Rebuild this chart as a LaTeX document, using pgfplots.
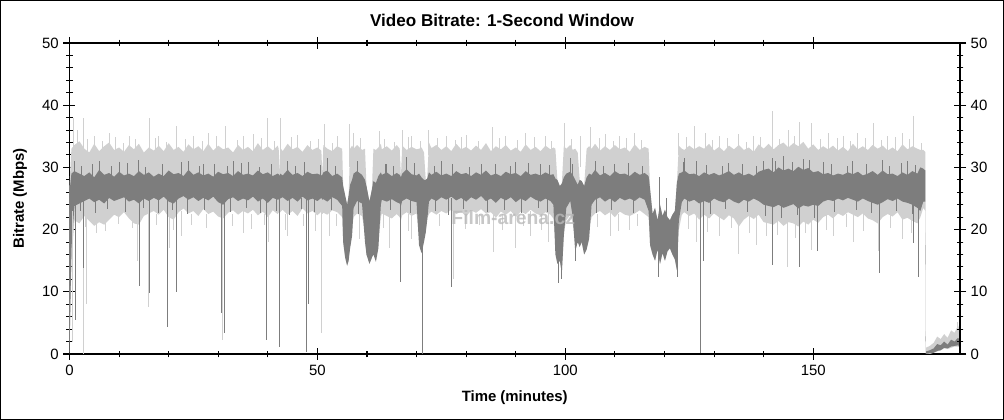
\documentclass[border=0pt]{standalone}
\usepackage{pgfplots}
\pgfplotsset{compat=1.18}
\usepgfplotslibrary{fillbetween}
\usepackage{pgfplotstable}
\usepackage{fontspec}
\setmainfont{Liberation Sans}
\definecolor{lightband}{RGB}{208,208,208}
\definecolor{darkband}{RGB}{125,125,125}

\pgfplotstableread{
t lhi llo dhi dlo
0 27.0 0.0 26.0 0.0
0.4 33.0 15.0 29.0 17.0
1 33.6 21.5 29.4 23.8
2 34.2 21.0 29.0 24.2
3 33.0 22.2 28.6 24.6
4 32.4 21.4 29.2 25.0
5 33.8 20.6 28.4 24.4
6 32.6 21.2 29.6 24.8
7 33.4 20.8 28.8 24.2
8 34.0 21.6 29.1 25.1
9 32.8 22.4 28.5 24.6
10 33.2 22.0 29.3 24.9
11 32.5 22.8 28.7 25.2
12 33.6 21.8 29.0 24.5
13 32.9 21.0 28.6 24.8
14 33.8 20.8 29.4 24.2
15 32.4 22.2 28.8 25.0
16 33.2 22.6 29.2 24.6
17 32.7 23.0 28.5 25.1
18 33.5 22.4 29.0 24.7
19 32.6 23.2 28.6 25.3
20 33.9 22.0 29.5 24.5
21 32.8 21.6 28.9 24.2
22 33.3 22.8 29.1 25.0
23 32.5 23.4 28.6 25.4
24 33.7 22.6 29.6 24.8
25 32.9 23.0 28.8 25.2
26 33.4 22.2 29.2 24.6
27 32.6 23.3 28.7 25.1
28 33.8 22.5 29.0 24.7
29 32.7 22.9 28.5 25.3
30 33.5 22.1 29.3 24.4
31 32.9 21.8 28.9 24.0
32 33.2 22.7 29.1 24.9
33 32.4 23.1 28.6 25.2
34 33.6 22.4 29.4 24.6
35 32.8 23.0 28.8 25.0
36 33.3 22.6 29.0 24.7
37 32.6 23.2 28.7 25.3
38 33.9 22.3 29.5 24.5
39 32.8 22.9 28.9 25.0
40 33.4 22.0 29.2 24.3
41 32.7 23.1 28.6 25.1
42 33.5 22.5 29.0 24.8
42.2 33.0 22.8 28.9 24.9
42.35 28.6 22.6 28.6 24.7
42.5 33.2 22.8 29.0 25.0
43 32.6 23.2 28.7 25.2
44 33.8 22.4 29.6 24.6
45 32.9 23.0 28.8 25.1
46 33.3 22.2 29.1 24.5
47 32.5 23.4 28.6 25.3
48 33.6 22.6 29.3 24.7
49 32.8 23.0 28.9 25.0
50 33.2 22.3 29.0 24.6
50.8 32.7 22.9 28.7 25.1
51.0 28.8 22.5 28.8 24.8
51.2 33.6 22.7 29.2 24.9
52 33.0 22.4 29.5 24.5
53 32.6 23.1 28.6 25.2
54 33.4 22.8 29.0 24.8
55 33.0 22.0 28.4 23.8
55.2 27.0 18.0 27.0 18.0
55.6 25.5 15.5 25.5 15.5
56.0 24.0 14.2 24.0 14.2
56.3 25.5 15.0 25.5 15.0
56.6 33.0 18.5 27.2 17.0
57.0 33.5 20.0 28.0 19.0
57.3 33.0 22.0 29.0 23.5
58 33.6 22.6 29.4 24.6
59 32.8 22.2 28.8 24.2
59.6 33.0 19.5 28.0 18.0
59.9 27.0 16.0 27.0 16.0
60.5 24.5 14.5 24.5 14.5
61.0 26.5 15.5 26.5 15.5
61.3 33.0 17.0 27.8 16.0
61.8 32.8 15.8 27.5 14.8
62.3 33.2 18.0 28.6 17.0
62.8 33.8 22.0 29.2 24.0
63 32.9 22.6 28.8 24.8
64 33.4 22.2 29.2 24.5
65 32.7 21.8 28.6 24.9
66 33.6 22.5 29.1 24.4
66.6 33.0 22.0 28.8 24.2
66.85 28.4 21.5 28.4 23.8
67.1 33.5 22.3 29.0 24.6
68 32.8 22.8 29.7 25.0
69 33.3 22.2 28.9 24.6
70 32.9 22.6 28.7 24.4
70.5 33.0 19.0 29.0 17.5
71.0 33.2 18.0 28.4 16.2
71.5 32.4 20.0 28.0 18.0
71.85 28.0 20.5 28.0 19.5
72.15 28.2 21.8 28.2 21.5
72.5 34.0 22.5 29.2 24.5
73 33.1 22.9 28.8 25.0
74 33.6 22.4 29.3 24.6
75 32.8 23.0 28.7 25.2
76 33.4 22.6 29.0 24.8
77 32.6 23.2 28.6 25.3
78 33.8 22.5 29.4 24.7
79 32.9 22.9 28.9 25.1
80 33.3 22.1 29.1 24.5
81 32.7 23.1 28.6 25.2
82 33.5 22.7 29.2 24.8
83 32.8 23.3 28.8 25.4
84 33.9 22.6 29.5 24.6
85 32.6 22.8 28.7 25.0
86 33.4 21.9 29.0 24.3
87 32.9 22.9 28.6 25.1
88 33.6 22.4 29.3 24.7
89 32.7 23.0 28.9 25.2
90 33.2 22.0 29.1 24.4
91 32.5 22.9 28.6 25.0
92 33.7 22.5 29.4 24.6
93 32.8 23.2 28.8 25.3
94 33.3 22.6 29.0 24.8
95 32.6 22.3 28.7 24.5
96 33.5 22.8 29.2 25.0
97 32.9 22.4 28.8 24.6
97.6 33.2 21.8 28.9 24.0
98.0 33.0 18.0 28.2 16.0
98.4 28.0 14.5 28.0 14.5
98.9 27.0 15.0 27.0 15.0
99.3 27.4 13.0 27.4 13.0
99.7 33.4 19.5 28.4 19.0
100.2 33.0 21.5 29.0 23.5
101 33.6 22.4 29.3 24.6
101.5 32.8 21.0 28.8 22.0
102.0 33.0 18.0 28.0 16.5
102.5 32.4 19.0 27.2 18.0
102.9 28.0 17.2 28.0 17.2
103.3 27.8 18.0 27.8 18.0
103.8 27.0 16.0 27.0 16.0
104.3 33.0 17.5 28.4 16.8
104.8 33.4 20.0 29.0 18.5
105.3 33.0 22.0 28.8 24.0
106 33.8 22.6 29.6 24.8
107 32.7 23.0 28.7 25.2
108 33.4 22.3 29.1 24.5
109 32.8 22.8 28.6 25.0
110 33.6 22.0 29.4 24.4
111 32.9 22.9 28.9 25.1
112 33.2 22.4 29.0 24.7
113 32.5 22.2 28.6 25.0
114 33.7 22.6 29.3 24.6
115 32.8 23.1 28.8 25.2
116 33.3 22.5 29.1 24.8
116.8 33.0 22.0 28.6 23.0
117.1 26.5 17.5 26.5 17.5
117.6 22.5 16.0 22.5 16.0
118.1 23.5 15.0 23.5 15.0
118.6 21.5 16.8 21.5 16.8
119.1 24.0 14.5 24.0 14.5
119.6 22.2 16.2 22.2 16.2
120.1 23.2 15.0 23.2 15.0
120.6 22.0 16.5 22.0 16.5
121.1 21.5 17.0 21.5 17.0
121.6 22.4 16.0 22.4 16.0
122.1 23.0 15.2 23.0 15.2
122.5 27.5 13.5 27.5 13.5
122.9 33.5 20.0 29.0 21.5
123.5 33.0 22.4 29.2 24.4
124 32.8 22.8 29.5 25.0
125 33.5 22.2 28.9 24.5
126 32.9 22.6 29.0 24.8
127 33.4 21.6 28.6 24.2
128 33.0 22.4 29.2 24.6
129 33.8 21.8 28.8 24.3
130 32.7 22.6 29.1 25.0
131 33.3 22.0 28.7 24.6
132 32.6 21.5 29.0 24.4
133 33.5 22.3 29.4 25.0
134 32.9 21.8 28.8 24.5
135 33.6 20.5 29.2 24.2
136 32.8 21.6 28.7 24.8
137 33.2 22.2 29.0 24.5
138 32.5 21.7 28.6 25.0
139 33.7 22.4 29.3 24.6
140 33.0 21.2 29.6 24.0
141 33.8 21.0 29.8 23.8
142 32.9 20.8 29.2 23.6
143 33.6 21.4 30.0 24.0
144 34.0 20.6 29.5 23.5
145 33.2 21.2 29.8 23.8
146 33.9 21.0 29.4 24.1
147 33.4 20.5 30.1 23.4
148 34.1 21.3 29.6 23.9
149 33.0 20.8 29.9 23.7
150 33.7 21.6 29.2 24.0
151 32.8 21.1 29.4 23.8
152 33.4 22.0 28.9 24.5
153 32.9 22.4 29.1 24.8
154 33.5 21.8 28.7 24.6
155 32.7 22.6 29.0 25.0
156 33.3 22.2 28.8 24.7
157 32.6 22.8 29.2 25.1
158 33.8 22.4 28.9 24.8
159 32.9 22.0 29.3 24.5
160 33.4 22.6 28.7 25.0
161 32.8 21.8 29.0 24.6
162 33.6 21.5 29.4 24.3
163 33.0 21.0 28.8 24.0
164 33.5 22.0 29.5 24.4
165 32.7 22.5 28.9 24.9
166 33.2 22.1 29.0 24.6
167 32.6 22.8 28.6 25.0
168 33.7 21.6 29.2 24.5
169 32.9 21.9 28.8 24.3
170 33.4 21.4 29.4 24.0
171 33.0 21.0 29.0 23.5
171.6 32.8 22.0 30.0 23.0
172.2 32.8 23.5 29.8 24.5
172.6 32.5 23.0 29.5 24.5
172.7 1.0 0.0 0.4 0.0
173.5 1.3 0.0 0.6 0.1
174.3 1.8 0.2 0.9 0.2
175.0 2.8 0.4 1.6 0.5
175.7 2.4 0.6 1.4 0.6
176.4 3.2 0.9 2.0 1.0
177.1 2.6 0.8 1.5 0.9
177.8 3.8 1.0 2.3 1.2
178.5 3.4 1.2 2.0 1.3
179.2 4.6 1.2 2.6 1.4
179.6 3.6 1.0 2.2 1.2
}\bandtable

\begin{document}
\begin{tikzpicture}
\pgfplotsset{
  common/.style={
    at={(0,0)}, anchor=south west,
    scale only axis, width=667.9pt, height=233.25pt,
    xmin=0, xmax=179.6, ymin=0, ymax=50,
    ytick={0,10,20,30,40,50}, minor y tick num=4,
    tick align=center, major tick length=9pt, minor tick length=5pt,
    every tick/.style={black, line width=0.8pt},
    axis line style={line width=1.1pt},
    /pgf/number format/assume math mode=true,
    tick label style={font=\fontsize{11.2}{13}\selectfont},
  }
}
\begin{axis}[
  common,
  xtick={0,50,100,150}, minor x tick num=4,
  title={Video Bitrate: 1-Second Window},
  title style={at={(0.4857,1.048)}, anchor=center, font=\bfseries\fontsize{12.8}{15}\selectfont},
  xlabel={Time (minutes)},
  ylabel={Bitrate (Mbps)},
  every axis x label/.style={at={(axis description cs:0.5,-0.1415)}, anchor=center, font=\bfseries\fontsize{11.2}{13}\selectfont},
  every axis y label/.style={at={(axis description cs:-0.0554,0.5)}, anchor=center, rotate=90, font=\bfseries\fontsize{11.2}{13}\selectfont},
  unbounded coords=jump,
]
\addplot[name path=LH, draw=none] table[x=t,y=lhi]{\bandtable};
\addplot[name path=LL, draw=none] table[x=t,y=llo]{\bandtable};
\addplot[lightband] fill between[of=LH and LL];

% light spikes (up and down)
\addplot[lightband, line width=0.6pt] coordinates {
(0.8,32) (0.8,38) (0.8,nan)
(1.5,32) (1.5,36) (1.5,nan)
(2.9,32) (2.9,38) (2.9,nan)
(5,32) (5,35) (5,nan)
(8,32) (8,35.5) (8,nan)
(12,32) (12,35) (12,nan)
(16.1,32) (16.1,38) (16.1,nan)
(18,32) (18,35) (18,nan)
(21.6,32) (21.6,36.7) (21.6,nan)
(25,32) (25,35) (25,nan)
(28,32) (28,35.5) (28,nan)
(31.5,32) (31.5,36.6) (31.5,nan)
(35,32) (35,35) (35,nan)
(37,32) (37,35.3) (37,nan)
(40,32) (40,38) (40,nan)
(42.6,32) (42.6,37.9) (42.6,nan)
(46,32) (46,35.2) (46,nan)
(51.4,32) (51.4,37) (51.4,nan)
(54,32) (54,35) (54,nan)
(56.5,30) (56.5,37) (56.5,nan)
(57.2,32) (57.2,35.5) (57.2,nan)
(62.6,32) (62.6,35.8) (62.6,nan)
(67.2,32) (67.2,36) (67.2,nan)
(69,32) (69,35) (69,nan)
(72.4,32) (72.4,36) (72.4,nan)
(76,32) (76,35) (76,nan)
(80,32) (80,35.2) (80,nan)
(85.2,32) (85.2,36.5) (85.2,nan)
(88,32) (88,35) (88,nan)
(92,32) (92,35.5) (92,nan)
(96,32) (96,35) (96,nan)
(99.8,32) (99.8,37.1) (99.8,nan)
(103,30) (103,35) (103,nan)
(105,32) (105,36.5) (105,nan)
(108,32) (108,35.3) (108,nan)
(111,32) (111,35) (111,nan)
(114,32) (114,35.5) (114,nan)
(122.9,32) (122.9,35.5) (122.9,nan)
(126,32) (126,36.7) (126,nan)
(128.2,32) (128.2,35.5) (128.2,nan)
(131,32) (131,35) (131,nan)
(135,32) (135,35.4) (135,nan)
(138,32) (138,35) (138,nan)
(141.7,32) (141.7,39) (141.7,nan)
(145,32) (145,36) (145,nan)
(147.2,32) (147.2,37.3) (147.2,nan)
(149.7,32) (149.7,37.2) (149.7,nan)
(153,32) (153,35.5) (153,nan)
(156,32) (156,35) (156,nan)
(159,32) (159,35.5) (159,nan)
(162.1,32) (162.1,37.2) (162.1,nan)
(165,32) (165,35) (165,nan)
(168,32) (168,35.5) (168,nan)
(170.2,32) (170.2,38.2) (170.2,nan)
(0.6,23) (0.6,2) (0.6,nan)
(2.9,23) (2.9,0) (2.9,nan)
(3.5,23) (3.5,8) (3.5,nan)
(5.5,23) (5.5,19.5) (5.5,nan)
(13.8,23) (13.8,15) (13.8,nan)
(15.9,23) (15.9,7.5) (15.9,nan)
(20.2,23) (20.2,17) (20.2,nan)
(22.5,23) (22.5,19) (22.5,nan)
(30.9,23) (30.9,2.3) (30.9,nan)
(35,23) (35,19.5) (35,nan)
(40.2,23) (40.2,18) (40.2,nan)
(44,23) (44,19) (44,nan)
(50.9,23) (50.9,3.4) (50.9,nan)
(52.5,23) (52.5,19) (52.5,nan)
(58.5,23) (58.5,18.5) (58.5,nan)
(64.5,23) (64.5,17) (64.5,nan)
(69,23) (69,18.5) (69,nan)
(77.5,23) (77.5,12) (77.5,nan)
(85.5,23) (85.5,16.4) (85.5,nan)
(89.9,23) (89.9,17) (89.9,nan)
(93,23) (93,19) (93,nan)
(96.5,23) (96.5,18) (96.5,nan)
(109,23) (109,19) (109,nan)
(113,23) (113,20) (113,nan)
(126.5,23) (126.5,18) (126.5,nan)
(131,23) (131,19) (131,nan)
(135,23) (135,16) (135,nan)
(138.5,23) (138.5,17.5) (138.5,nan)
(144.7,23) (144.7,14) (144.7,nan)
(149.7,23) (149.7,16.7) (149.7,nan)
(154,23) (154,19) (154,nan)
(158,23) (158,18) (158,nan)
(163.1,23) (163.1,16.5) (163.1,nan)
(168,23) (168,18.5) (168,nan)
(179.0,3) (179.0,5.2) (179.0,nan)
};

% short light spikes at the band edges (texture)
\addplot[lightband, line width=0.5pt] coordinates {
(3.7,32.5) (3.7,34.6) (3.7,nan) (6.6,32.5) (6.6,34.2) (6.6,nan)
(9.3,32.5) (9.3,34.9) (9.3,nan) (10.8,32.5) (10.8,33.9) (10.8,nan)
(13.2,32.5) (13.2,34.5) (13.2,nan) (17.3,32.5) (17.3,34.8) (17.3,nan)
(19.5,32.5) (19.5,34.1) (19.5,nan) (23.4,32.5) (23.4,34.6) (23.4,nan)
(26.7,32.5) (26.7,34.3) (26.7,nan) (29.6,32.5) (29.6,35.0) (29.6,nan)
(33.8,32.5) (33.8,34.4) (33.8,nan) (38.7,32.5) (38.7,34.7) (38.7,nan)
(41.3,32.5) (41.3,34.2) (41.3,nan) (44.8,32.5) (44.8,34.9) (44.8,nan)
(48.6,32.5) (48.6,34.3) (48.6,nan) (50.2,32.5) (50.2,34.6) (50.2,nan)
(53.1,32.5) (53.1,34.0) (53.1,nan) (58.7,32.5) (58.7,34.8) (58.7,nan)
(63.5,32.5) (63.5,34.5) (63.5,nan) (65.6,32.5) (65.6,34.1) (65.6,nan)
(68.3,32.5) (68.3,34.9) (68.3,nan) (70.7,32.5) (70.7,34.3) (70.7,nan)
(74.2,32.5) (74.2,34.7) (74.2,nan) (77.8,32.5) (77.8,34.4) (77.8,nan)
(79.1,32.5) (79.1,34.9) (79.1,nan) (82.4,32.5) (82.4,34.2) (82.4,nan)
(86.6,32.5) (86.6,34.8) (86.6,nan) (90.4,32.5) (90.4,34.4) (90.4,nan)
(93.7,32.5) (93.7,34.9) (93.7,nan) (97.1,32.5) (97.1,34.3) (97.1,nan)
(101.2,32.5) (101.2,34.5) (101.2,nan) (106.8,32.5) (106.8,34.7) (106.8,nan)
(109.6,32.5) (109.6,34.2) (109.6,nan) (112.4,32.5) (112.4,34.8) (112.4,nan)
(115.3,32.5) (115.3,34.4) (115.3,nan) (124.4,32.5) (124.4,34.9) (124.4,nan)
(129.6,32.5) (129.6,34.4) (129.6,nan) (132.7,32.5) (132.7,34.8) (132.7,nan)
(136.5,32.5) (136.5,34.1) (136.5,nan) (139.4,32.5) (139.4,34.9) (139.4,nan)
(143.2,32.5) (143.2,34.6) (143.2,nan) (146.1,32.5) (146.1,35.0) (146.1,nan)
(151.5,32.5) (151.5,34.5) (151.5,nan) (154.8,32.5) (154.8,34.8) (154.8,nan)
(157.4,32.5) (157.4,34.3) (157.4,nan) (160.6,32.5) (160.6,34.7) (160.6,nan)
(163.8,32.5) (163.8,34.4) (163.8,nan) (166.5,32.5) (166.5,34.9) (166.5,nan)
(169.4,32.5) (169.4,34.5) (169.4,nan) (171.8,32.5) (171.8,34.0) (171.8,nan)
(3.3,22.5) (3.3,20.4) (3.3,nan) (7.2,22.5) (7.2,19.8) (7.2,nan)
(9.8,22.5) (9.8,20.9) (9.8,nan) (12.6,22.5) (12.6,20.2) (12.6,nan)
(17.6,22.5) (17.6,20.7) (17.6,nan) (21.0,22.5) (21.0,19.9) (21.0,nan)
(24.5,22.5) (24.5,20.8) (24.5,nan) (27.6,22.5) (27.6,20.3) (27.6,nan)
(32.8,22.5) (32.8,20.6) (32.8,nan) (36.6,22.5) (36.6,20.1) (36.6,nan)
(39.3,22.5) (39.3,20.8) (39.3,nan) (43.5,22.5) (43.5,20.0) (43.5,nan)
(47.2,22.5) (47.2,20.6) (47.2,nan) (49.6,22.5) (49.6,19.8) (49.6,nan)
(53.8,22.5) (53.8,20.5) (53.8,nan) (63.4,22.5) (63.4,20.2) (63.4,nan)
(68.4,22.5) (68.4,19.7) (68.4,nan) (74.6,22.5) (74.6,20.6) (74.6,nan)
(79.8,22.5) (79.8,20.1) (79.8,nan) (82.7,22.5) (82.7,20.8) (82.7,nan)
(87.3,22.5) (87.3,19.9) (87.3,nan) (91.5,22.5) (91.5,20.5) (91.5,nan)
(95.2,22.5) (95.2,20.0) (95.2,nan) (106.5,22.5) (106.5,20.4) (106.5,nan)
(110.7,22.5) (110.7,19.8) (110.7,nan) (114.6,22.5) (114.6,20.6) (114.6,nan)
(124.8,22.5) (124.8,20.1) (124.8,nan) (128.7,22.5) (128.7,19.6) (128.7,nan)
(133.4,22.5) (133.4,20.3) (133.4,nan) (137.2,22.5) (137.2,19.4) (137.2,nan)
(140.6,22.5) (140.6,18.9) (140.6,nan) (142.8,22.5) (142.8,19.2) (142.8,nan)
(146.3,22.5) (146.3,18.7) (146.3,nan) (148.5,22.5) (148.5,19.5) (148.5,nan)
(152.6,22.5) (152.6,19.9) (152.6,nan) (156.6,22.5) (156.6,20.4) (156.6,nan)
(160.2,22.5) (160.2,19.7) (160.2,nan) (165.6,22.5) (165.6,20.2) (165.6,nan)
(169.7,22.5) (169.7,19.5) (169.7,nan)
};

\addplot[name path=DH, draw=none] table[x=t,y=dhi]{\bandtable};
\addplot[name path=DL, draw=none] table[x=t,y=dlo]{\bandtable};
\addplot[darkband] fill between[of=DH and DL];

% dark spikes (down and up)
\addplot[darkband, line width=0.7pt] coordinates {
(1.2,25) (1.2,5.5) (1.2,nan)
(2.9,25) (2.9,13.8) (2.9,nan)
(14.2,25) (14.2,11) (14.2,nan)
(16.1,25) (16.1,9.8) (16.1,nan)
(19.8,25) (19.8,4.4) (19.8,nan)
(21.5,25) (21.5,10) (21.5,nan)
(30.6,25) (30.6,6.6) (30.6,nan)
(31.3,25) (31.3,3.4) (31.3,nan)
(39.8,25) (39.8,2.2) (39.8,nan)
(42.3,25) (42.3,1.1) (42.3,nan)
(47.8,25) (47.8,0.3) (47.8,nan)
(48.2,25) (48.2,8) (48.2,nan)
(66.7,25) (66.7,11.6) (66.7,nan)
(71.1,25) (71.1,0) (71.1,nan)
(77,25) (77,10.8) (77,nan)
(98.6,25) (98.6,11.4) (98.6,nan)
(99.3,25) (99.3,12) (99.3,nan)
(102,25) (102,15) (102,nan)
(104,25) (104,16.7) (104,nan)
(118.8,20) (118.8,12.4) (118.8,nan)
(119.0,18) (119.0,28.5) (119.0,nan)
(120.5,18) (120.5,25) (120.5,nan)
(122.7,20) (122.7,12.4) (122.7,nan)
(127.2,25) (127.2,0.1) (127.2,nan)
(127.9,25) (127.9,15) (127.9,nan)
(141.7,25) (141.7,14.3) (141.7,nan)
(147.2,25) (147.2,14) (147.2,nan)
(150.9,25) (150.9,16.5) (150.9,nan)
(163.3,25) (163.3,13) (163.3,nan)
(170.2,25) (170.2,17.8) (170.2,nan)
(171.2,25) (171.2,12.4) (171.2,nan)
(1,28) (1,31) (1,nan)
(6,28) (6,31) (6,nan)
(10,28) (10,30.8) (10,nan)
(14,28) (14,31.2) (14,nan)
(24,28) (24,31) (24,nan)
(27,28) (27,30.5) (27,nan)
(33,28) (33,31) (33,nan)
(36,28) (36,30.8) (36,nan)
(44,28) (44,31) (44,nan)
(52,28) (52,31.5) (52,nan)
(58,28) (58,31) (58,nan)
(64,28) (64,30.5) (64,nan)
(68,28) (68,31.7) (68,nan)
(75,28) (75,31) (75,nan)
(83,28) (83,30.5) (83,nan)
(90,28) (90,30.8) (90,nan)
(95,28) (95,30.5) (95,nan)
(101,28) (101,31.5) (101,nan)
(106,28) (106,31) (106,nan)
(110,28) (110,30.5) (110,nan)
(124,28) (124,31.5) (124,nan)
(126.5,28) (126.5,31) (126.5,nan)
(133,28) (133,30.7) (133,nan)
(140,28) (140,31) (140,nan)
(141.7,28) (141.7,31.5) (141.7,nan)
(144,28) (144,31.8) (144,nan)
(148,28) (148,31.3) (148,nan)
(152,28) (152,30.8) (152,nan)
(158,28) (158,31) (158,nan)
(164,28) (164,31.2) (164,nan)
(169,28) (169,31) (169,nan)
};

% short dark spikes at the band edges (texture)
\addplot[darkband, line width=0.5pt] coordinates {
(2.4,28.5) (2.4,30.3) (2.4,nan) (4.6,28.5) (4.6,30.6) (4.6,nan)
(8.5,28.5) (8.5,30.2) (8.5,nan) (11.7,28.5) (11.7,30.7) (11.7,nan)
(15.4,28.5) (15.4,30.1) (15.4,nan) (18.7,28.5) (18.7,30.5) (18.7,nan)
(22.6,28.5) (22.6,30.8) (22.6,nan) (26.2,28.5) (26.2,30.2) (26.2,nan)
(29.3,28.5) (29.3,30.6) (29.3,nan) (31.9,28.5) (31.9,30.3) (31.9,nan)
(34.7,28.5) (34.7,30.7) (34.7,nan) (38.2,28.5) (38.2,30.1) (38.2,nan)
(40.8,28.5) (40.8,30.5) (40.8,nan) (45.6,28.5) (45.6,30.3) (45.6,nan)
(47.4,28.5) (47.4,30.8) (47.4,nan) (50.5,28.5) (50.5,30.4) (50.5,nan)
(53.6,28.5) (53.6,30.2) (53.6,nan) (63.8,28.5) (63.8,30.6) (63.8,nan)
(65.3,28.5) (65.3,30.2) (65.3,nan) (69.6,28.5) (69.6,30.7) (69.6,nan)
(73.5,28.5) (73.5,30.3) (73.5,nan) (77.2,28.5) (77.2,30.6) (77.2,nan)
(80.6,28.5) (80.6,30.1) (80.6,nan) (85.8,28.5) (85.8,30.5) (85.8,nan)
(88.9,28.5) (88.9,30.2) (88.9,nan) (92.6,28.5) (92.6,30.7) (92.6,nan)
(96.8,28.5) (96.8,30.4) (96.8,nan) (101.4,28.5) (101.4,30.6) (101.4,nan)
(107.6,28.5) (107.6,30.3) (107.6,nan) (112.8,28.5) (112.8,30.7) (112.8,nan)
(115.6,28.5) (115.6,30.2) (115.6,nan) (123.8,28.5) (123.8,30.8) (123.8,nan)
(128.5,28.5) (128.5,30.4) (128.5,nan) (131.6,28.5) (131.6,30.2) (131.6,nan)
(135.8,28.5) (135.8,30.6) (135.8,nan) (138.6,28.5) (138.6,30.3) (138.6,nan)
(142.4,28.5) (142.4,31.0) (142.4,nan) (145.7,28.5) (145.7,30.9) (145.7,nan)
(149.2,28.5) (149.2,31.2) (149.2,nan) (153.6,28.5) (153.6,30.5) (153.6,nan)
(156.9,28.5) (156.9,30.3) (156.9,nan) (160.8,28.5) (160.8,30.6) (160.8,nan)
(165.4,28.5) (165.4,30.2) (165.4,nan) (167.8,28.5) (167.8,30.7) (167.8,nan)
(170.6,28.5) (170.6,30.4) (170.6,nan)
(2.1,25) (2.1,23.0) (2.1,nan) (5.3,25) (5.3,22.6) (5.3,nan)
(7.7,25) (7.7,23.3) (7.7,nan) (11.2,25) (11.2,22.8) (11.2,nan)
(14.8,25) (14.8,23.4) (14.8,nan) (17.9,25) (17.9,22.7) (17.9,nan)
(20.7,25) (20.7,23.1) (20.7,nan) (23.8,25) (23.8,22.5) (23.8,nan)
(27.3,25) (27.3,23.2) (27.3,nan) (32.4,25) (32.4,22.9) (32.4,nan)
(35.6,25) (35.6,23.4) (35.6,nan) (38.5,25) (38.5,22.6) (38.5,nan)
(41.7,25) (41.7,23.0) (41.7,nan) (44.3,25) (44.3,22.4) (44.3,nan)
(46.8,25) (46.8,23.3) (46.8,nan) (49.4,25) (49.4,22.8) (49.4,nan)
(52.8,25) (52.8,23.1) (52.8,nan) (58.3,25) (58.3,22.5) (58.3,nan)
(64.8,25) (64.8,23.2) (64.8,nan) (68.7,25) (68.7,22.7) (68.7,nan)
(73.8,25) (73.8,23.0) (73.8,nan) (76.4,25) (76.4,22.4) (76.4,nan)
(79.5,25) (79.5,23.3) (79.5,nan) (84.2,25) (84.2,22.8) (84.2,nan)
(87.8,25) (87.8,23.1) (87.8,nan) (91.2,25) (91.2,22.6) (91.2,nan)
(94.6,25) (94.6,23.4) (94.6,nan) (96.3,25) (96.3,22.9) (96.3,nan)
(106.2,25) (106.2,22.6) (106.2,nan) (109.3,25) (109.3,23.2) (109.3,nan)
(113.7,25) (113.7,22.7) (113.7,nan) (124.6,25) (124.6,23.0) (124.6,nan)
(129.3,25) (129.3,22.5) (129.3,nan) (132.2,25) (132.2,23.3) (132.2,nan)
(136.8,25) (136.8,22.8) (136.8,nan) (140.3,25) (140.3,22.2) (140.3,nan)
(143.6,25) (143.6,21.8) (143.6,nan) (146.8,25) (146.8,22.4) (146.8,nan)
(150.2,25) (150.2,21.9) (150.2,nan) (154.3,25) (154.3,22.8) (154.3,nan)
(158.6,25) (158.6,23.2) (158.6,nan) (161.7,25) (161.7,22.6) (161.7,nan)
(166.8,25) (166.8,23.0) (166.8,nan) (169.9,25) (169.9,22.5) (169.9,nan)
};

\node[font=\bfseries\fontsize{14.5}{16}\selectfont, text=gray!55, opacity=0.8] at (axis cs:89.5,22) {Film-arena.cz};
\end{axis}

\begin{axis}[
  common,
  axis x line=none,
  axis y line*=right,
  yticklabel pos=right,
]
\addplot[draw=none] coordinates {(0,0)};
\end{axis}

\draw[line width=1pt] (-51.6pt,-49.0pt) rectangle (700.4pt,265.0pt);
\end{tikzpicture}
\end{document}
